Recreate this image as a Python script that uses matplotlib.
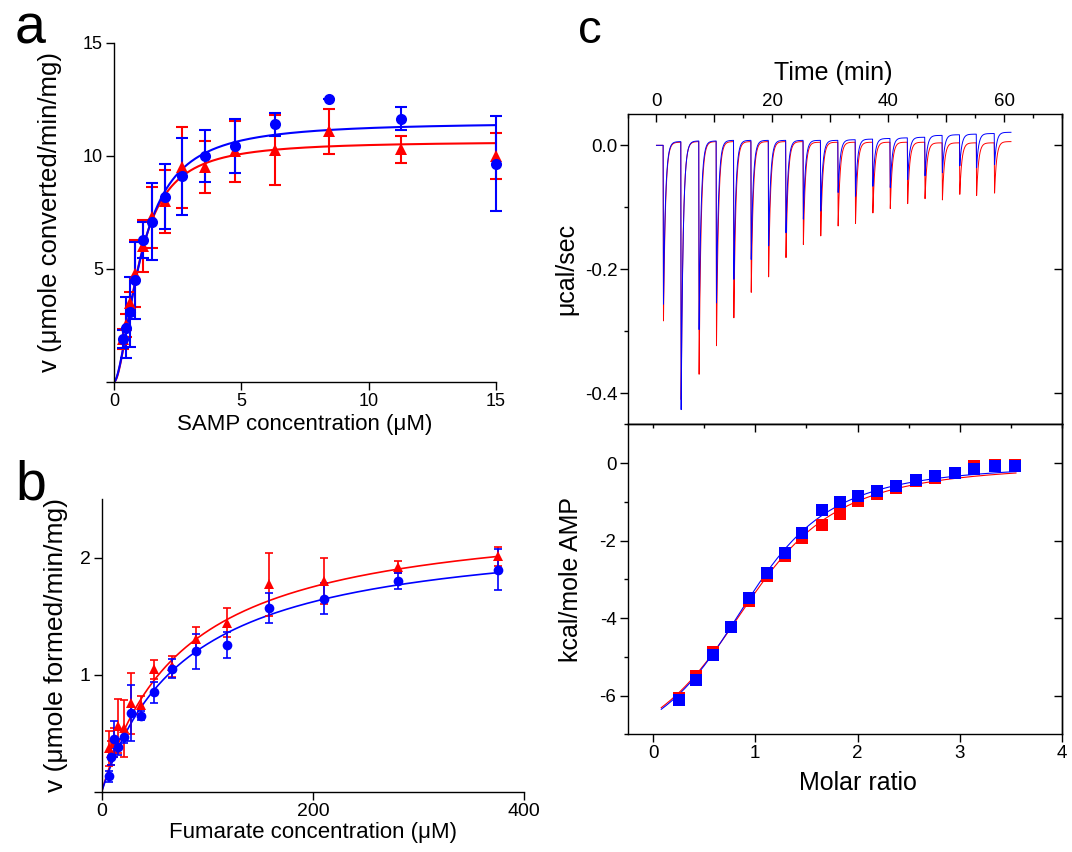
import matplotlib
matplotlib.use('Agg')
import matplotlib.pyplot as plt
import numpy as np
from matplotlib.ticker import MultipleLocator

plt.rcParams['font.family'] = ['Liberation Sans', 'DejaVu Sans']
plt.rcParams['axes.linewidth'] = 1.0

BLUE = '#0000ff'
RED = '#ff0000'

# ---- panel a: SAMP kinetics ----
samp_conc = [0.36, 0.47, 0.63, 0.84, 1.13, 1.5, 2.0, 2.67, 3.56, 4.75, 6.33, 8.44, 11.25, 15.0]
samp_blue = [1.92, 2.4, 3.1, 4.5, 6.3, 7.1, 8.2, 9.1, 10.0, 10.45, 11.4, 12.5, 11.65, 9.65]
samp_blue_err = [0.4, 1.35, 1.55, 1.7, 0.8, 1.7, 1.45, 1.7, 1.15, 1.2, 0.5, 0.0, 0.5, 2.1]
samp_red = [1.9, 2.5, 3.5, 4.8, 6.0, 7.3, 8.0, 9.5, 9.5, 10.2, 10.25, 11.1, 10.3, 10.0]
samp_red_err = [0.43, 0.5, 0.5, 1.5, 1.15, 1.35, 1.4, 1.8, 1.15, 1.35, 1.55, 1.0, 0.6, 1.0]
hill_blue = (11.5, 1.1, 1.7)   # vmax, K, n
hill_red = (10.65, 1.0, 1.8)

# ---- panel b: fumarate kinetics ----
fum_conc = [6.7, 8.9, 11.9, 15.8, 21.1, 28.1, 37.5, 50, 66.7, 89, 118.6, 158, 211, 281, 375]
fum_blue = [0.13, 0.30, 0.45, 0.38, 0.47, 0.675, 0.65, 0.85, 1.05, 1.2, 1.25, 1.57, 1.65, 1.80, 1.895]
fum_blue_err = [0.05, 0.07, 0.15, 0.07, 0.05, 0.24, 0.04, 0.09, 0.08, 0.15, 0.11, 0.13, 0.13, 0.07, 0.175]
fum_red = [0.37, 0.33, 0.42, 0.56, 0.54, 0.755, 0.74, 1.045, 1.07, 1.30, 1.445, 1.77, 1.80, 1.92, 2.01]
fum_red_err = [0.15, 0.1, 0.12, 0.23, 0.24, 0.26, 0.08, 0.08, 0.09, 0.11, 0.12, 0.27, 0.2, 0.05, 0.08]
mm_blue = (2.27, 80.0)   # vmax, Km
mm_red = (2.42, 76.6)

# ---- panel c: ITC ----
inj_time = [1.15, 4.2, 7.3, 10.3, 13.3, 16.3, 19.3, 22.3, 25.3, 28.3,
            31.3, 34.3, 37.3, 40.3, 43.3, 46.3, 49.3, 52.3, 55.2, 58.3]
peak_blue = [-0.256, -0.426, -0.297, -0.254, -0.216, -0.184, -0.162, -0.141, -0.119, -0.106,
             -0.076, -0.082, -0.066, -0.068, -0.055, -0.049, -0.044, -0.033, -0.036, -0.031]
peak_red = [-0.283, -0.41, -0.369, -0.323, -0.278, -0.237, -0.212, -0.181, -0.160, -0.146,
            -0.130, -0.126, -0.109, -0.102, -0.094, -0.086, -0.088, -0.079, -0.081, -0.077]
base_blue = [0.0, 0.006, 0.007, 0.007, 0.008, 0.008, 0.008, 0.008, 0.008, 0.008, 0.008,
             0.009, 0.010, 0.011, 0.012, 0.013, 0.016, 0.017, 0.018, 0.019, 0.021]
base_red = [0.0, 0.005, 0.006, 0.006, 0.006, 0.006, 0.006, 0.006, 0.006, 0.005, 0.005,
            0.005, 0.005, 0.005, 0.005, 0.005, 0.004, 0.004, 0.004, 0.004, 0.006]

ratio = [0.25, 0.42, 0.59, 0.76, 0.94, 1.11, 1.29, 1.46, 1.65, 1.83,
         2.0, 2.19, 2.38, 2.57, 2.76, 2.95, 3.14, 3.34, 3.54]
heat_blue = [-6.12, -5.6, -4.95, -4.23, -3.48, -2.83, -2.31, -1.79, -1.21, -0.99,
             -0.85, -0.72, -0.59, -0.43, -0.33, -0.24, -0.14, -0.07, -0.07]
heat_red = [-6.05, -5.5, -4.87, -4.23, -3.56, -2.91, -2.4, -1.92, -1.6, -1.32,
            -0.97, -0.8, -0.63, -0.46, -0.37, -0.24, -0.08, -0.04, -0.04]
fit_blue = (-7.8, 5.0, 1.05)   # dH, c, n
fit_red = (-7.9, 4.5, 1.08)


def hill(x, vmax, k, n):
    return vmax * x**n / (k**n + x**n)


def mm(x, vmax, km):
    return vmax * x / (km + x)


def wiseman(x, dh, c, n):
    xr = x / n
    r = 1.0 / c
    return dh * (0.5 + (1 - xr - r) / (2 * np.sqrt((1 + xr + r)**2 - 4 * xr)))


def itc_trace(t, times, peaks, base, rise=0.06, tau=0.35):
    y = np.full_like(t, base[0])
    for i, (ti, pk) in enumerate(zip(times, peaks)):
        t_end = times[i + 1] if i + 1 < len(times) else t[-1] + 1
        seg = (t >= ti) & (t < t_end)
        dt = t[seg] - ti
        b0, b1 = base[i], base[i + 1]
        y[seg] = np.where(dt < rise, b0 + (pk - b0) * dt / rise,
                          b1 + (pk - b1) * np.exp(-(dt - rise) / tau))
    return y


def errbars(ax, x, y, err, fmt, color, ms, lw, cap):
    cont = ax.errorbar(x, y, yerr=err, fmt=fmt, color=color, ms=ms,
                       elinewidth=lw, capsize=cap, capthick=lw)
    cont[0].set_markeredgewidth(0)
    for art in cont.get_children():
        art.set_clip_on(False)


W, H = 1072, 852
fig = plt.figure(figsize=(W / 100, H / 100), dpi=100)


def box(l, t, r, b):
    return [l / W, 1 - b / H, (r - l) / W, (b - t) / H]


ax_a = fig.add_axes(box(114, 43, 496, 382))
ax_b = fig.add_axes(box(101.7, 499, 524, 791.7))
ax_c1 = fig.add_axes(box(627.5, 114.3, 1062, 424.5))
ax_c2 = fig.add_axes(box(627.5, 424.5, 1062, 734.3))

# panel a
xs = np.linspace(0, 15, 400)
ax_a.plot(xs, hill(xs, *hill_red), color=RED, lw=1.5)
ax_a.plot(xs, hill(xs, *hill_blue), color=BLUE, lw=1.5)
errbars(ax_a, samp_conc, samp_red, samp_red_err, '^', RED, 8.5, 1.5, 4.5)
errbars(ax_a, samp_conc, samp_blue, samp_blue_err, 'o', BLUE, 8, 1.5, 4.5)
ax_a.set_xlim(0, 15)
ax_a.set_ylim(0, 15)
ax_a.set_xticks([0, 5, 10, 15])
ax_a.set_yticks([0, 5, 10, 15])
ax_a.set_yticklabels(['', '5', '10', '15'])
ax_a.spines[['top', 'right']].set_visible(False)
ax_a.tick_params(direction='out', length=6, width=1, labelsize=13, pad=2)
ax_a.set_xlabel('SAMP concentration (μM)', fontsize=16)
ax_a.xaxis.set_label_coords(0.5, -0.094)
ax_a.set_ylabel('v (μmole converted/min/mg)', fontsize=18.5)
ax_a.yaxis.set_label_coords(-0.136, 0.5)

# panel b
xs = np.linspace(0, 375, 400)
ax_b.plot(xs, mm(xs, *mm_red), color=RED, lw=1.2)
ax_b.plot(xs, mm(xs, *mm_blue), color=BLUE, lw=1.2)
errbars(ax_b, fum_conc, fum_red, fum_red_err, '^', RED, 7.5, 1.2, 3)
errbars(ax_b, fum_conc, fum_blue, fum_blue_err, 'o', BLUE, 7, 1.2, 3)
ax_b.set_xlim(0, 400)
ax_b.set_ylim(0, 2.5)
ax_b.set_xticks([0, 200, 400])
ax_b.set_yticks([0, 1, 2])
ax_b.set_yticklabels(['', '1', '2'])
ax_b.spines[['top', 'right']].set_visible(False)
ax_b.tick_params(direction='out', length=6, width=1, labelsize=14, pad=2)
ax_b.set_xlabel('Fumarate concentration (μM)', fontsize=16)
ax_b.xaxis.set_label_coords(0.5, -0.104)
ax_b.set_ylabel('v (μmole formed/min/mg)', fontsize=19)
ax_b.yaxis.set_label_coords(-0.08, 0.5)

# panel c, raw thermogram
t = np.arange(0, 61.2, 0.01)
ax_c1.plot(t, itc_trace(t, inj_time, peak_red, base_red), color=RED, lw=0.7)
ax_c1.plot(t, itc_trace(t, inj_time, peak_blue, base_blue), color=BLUE, lw=0.7)
ax_c1.set_xlim(-5, 70)
ax_c1.set_ylim(-0.45, 0.05)
ax_c1.xaxis.tick_top()
ax_c1.xaxis.set_label_position('top')
ax_c1.set_xticks(np.arange(0, 70, 10))
ax_c1.set_xticklabels(['0', '', '20', '', '40', '', '60'])
ax_c1.xaxis.set_minor_locator(MultipleLocator(5))
ax_c1.tick_params(axis='x', which='major', direction='in', length=6, width=1, labelsize=13.5, pad=3)
ax_c1.tick_params(axis='x', which='minor', direction='in', length=3, width=1)
ax_c1.set_yticks([-0.4, -0.2, 0.0])
ax_c1.set_yticklabels(['-0.4', '-0.2', '0.0'])
ax_c1.yaxis.set_minor_locator(MultipleLocator(0.1))
ax_c1.tick_params(axis='y', which='major', direction='out', length=6, width=1, labelsize=13.5, pad=1)
ax_c1.tick_params(axis='y', which='minor', direction='out', length=3, width=1)
ax_c1.tick_params(axis='x', bottom=False)
sec = ax_c1.secondary_yaxis('right')
sec.set_yticks([-0.4, -0.2, 0.0])
sec.tick_params(direction='in', length=6, width=1, labelright=False)
ax_c1.set_xlabel('Time (min)', fontsize=18)
ax_c1.xaxis.set_label_coords(0.473, 1.11)
ax_c1.set_ylabel('μcal/sec', fontsize=18)
ax_c1.yaxis.set_label_coords(-0.114, 0.5)

# panel c, integrated heats
xs = np.linspace(0.08, 3.55, 300)
ax_c2.plot(xs, wiseman(xs, *fit_red), color=RED, lw=0.8)
ax_c2.plot(xs, wiseman(xs, *fit_blue), color=BLUE, lw=0.8)
ax_c2.plot(ratio, heat_red, 's', color=RED, ms=8, mew=0)
ax_c2.plot(ratio, heat_blue, 's', color=BLUE, ms=8, mew=0)
ax_c2.set_xlim(-0.25, 4)
ax_c2.set_ylim(-7, 1)
ax_c2.set_xticks([0, 1, 2, 3, 4])
ax_c2.set_yticks([-6, -4, -2, 0])
ax_c2.set_yticklabels(['-6', '-4', '-2', '0'])
ax_c2.yaxis.set_minor_locator(MultipleLocator(1))
ax_c2.tick_params(which='major', direction='out', length=6, width=1, labelsize=13.5, pad=2)
ax_c2.tick_params(axis='y', which='minor', direction='out', length=3, width=1)
sec = ax_c2.secondary_yaxis('right')
sec.set_yticks([-6, -4, -2, 0])
sec.tick_params(direction='in', length=6, width=1, labelright=False)
sec = ax_c2.secondary_xaxis('top')
sec.set_xticks([1, 2, 3])
sec.xaxis.set_minor_locator(MultipleLocator(0.5))
sec.tick_params(which='major', direction='in', length=6, width=1, labeltop=False)
sec.tick_params(which='minor', direction='in', length=3, width=1)
ax_c2.set_xlabel('Molar ratio', fontsize=18)
ax_c2.xaxis.set_label_coords(0.53, -0.118)
ax_c2.set_ylabel('kcal/mole AMP', fontsize=18)
ax_c2.yaxis.set_label_coords(-0.102, 0.5)

# panel letters
fig.text(15 / W, 1 - 43 / H, 'a', fontsize=40, va='baseline')
fig.text(15 / W, 1 - 500 / H, 'b', fontsize=40, va='baseline')
fig.text(578 / W, 1 - 43 / H, 'c', fontsize=34, va='baseline')

fig.savefig('out.png', dpi=100)
